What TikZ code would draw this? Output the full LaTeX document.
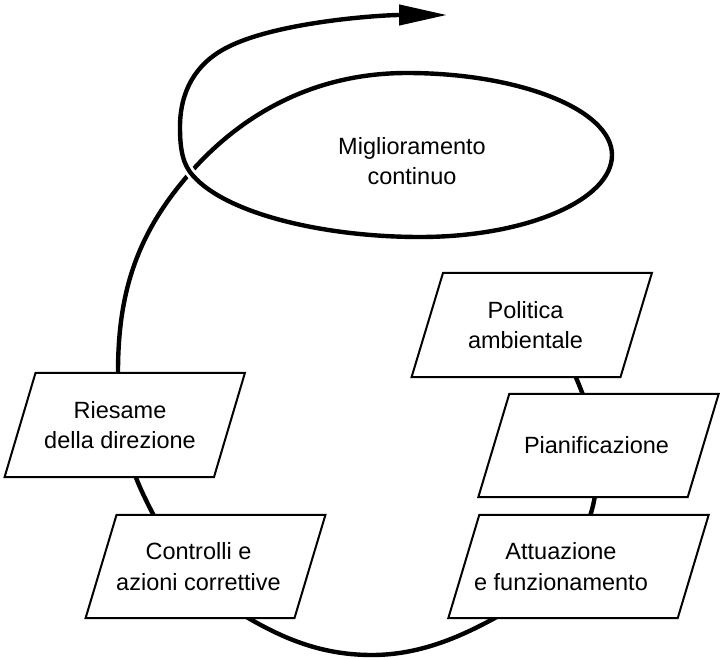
\documentclass[tikz,border=0pt]{standalone}
\usepackage{fontspec}
\setmainfont{Liberation Sans}
\usetikzlibrary{arrows.meta}
\pgfdeclarelayer{bg}
\pgfdeclarelayer{mid}
\pgfsetlayers{bg,mid,main}
% #1 node name, #2 half slant, #3 horizontal offset of the box from the text
\newcommand{\drawpara}[3]{%
  \filldraw[boxline] ([xshift=#3+#2]#1.north west) -- ([xshift=#3+#2]#1.north east)
    -- ([xshift=#3-#2]#1.south east) -- ([xshift=#3-#2]#1.south west) -- cycle;}
\begin{document}
\begin{tikzpicture}[x=1pt,y=-1pt,
  boxline/.style={draw=black, fill=white, line width=2pt, line join=miter},
  boxtext/.style={inner sep=0pt, align=center, font=\fontsize{23.5}{30.5}\selectfont},
  curveline/.style={line width=4.4pt, draw=black}]
\useasboundingbox (0,0) rectangle (720,660);
\node[boxtext] (mig) at (412,161) {Miglioramento\\continuo};
\node[boxtext, minimum width=209pt, minimum height=104pt] (rie) at (120,425) {Riesame\\della direzione};
\node[boxtext, minimum width=208.5pt, minimum height=103pt] (con) at (198.5,566.5) {Controlli e\\azioni correttive};
\node[boxtext, minimum width=208.5pt, minimum height=104pt] (pol) at (525.5,325) {Politica\\ambientale};
\node[boxtext, minimum width=209pt, minimum height=103pt] (pia) at (596.5,445.5) {Pianificazione};
\node[boxtext, minimum width=229pt, minimum height=103pt] (att) at (561,566.5) {Attuazione\\e funzionamento};
\begin{pgfonlayer}{mid}
\drawpara{rie}{15.5pt}{4.75pt}
\drawpara{con}{15.5pt}{7pt}
\drawpara{pol}{15.75pt}{6.25pt}
\drawpara{pia}{15.5pt}{2pt}
\drawpara{att}{15.5pt}{17.5pt}
\end{pgfonlayer}
\begin{pgfonlayer}{bg}
\draw[curveline] (566,355) .. controls (584.5,396) and (597,425) .. (597,470)
 .. controls (597,540) and (554.5,585.6) .. (493,619)
 .. controls (458,638) and (418,655) .. (372,655)
 .. controls (326,655) and (289,641.5) .. (250,619)
 .. controls (197.8,589) and (169.8,550) .. (144,496)
 .. controls (124.6,455.5) and (118,417) .. (118,372)
 .. controls (118,292) and (137.2,233) .. (190,173)
 .. controls (236,120.5) and (307,73) .. (407,73)
 .. controls (520,73) and (612,110) .. (612,155);
\draw[curveline, preaction={draw=white, line width=10pt}, -{Triangle[length=48pt,width=20pt]}]
 (612,155) .. controls (612,200) and (526,237) .. (420,237)
 .. controls (320,237) and (220,212) .. (190,172)
 .. controls (181,160) and (180,142) .. (180,127)
 .. controls (180,92) and (195,64.2) .. (226,48)
 .. controls (275,22) and (380,15) .. (447,15);
\end{pgfonlayer}
\end{tikzpicture}
\end{document}
